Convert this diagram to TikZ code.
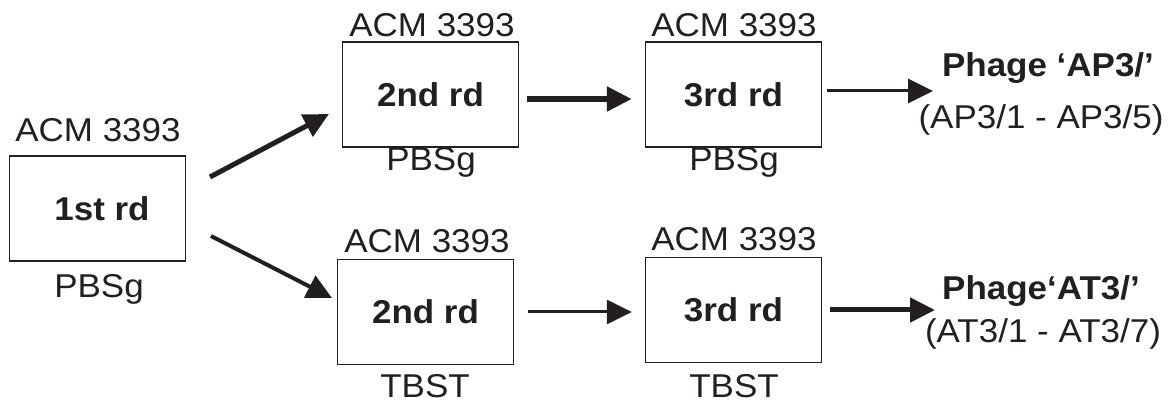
\documentclass[tikz,border=0pt]{standalone}
\usepackage{fontspec}
\setmainfont[FakeStretch=1.06]{Liberation Sans}
\usetikzlibrary{arrows.meta}
\definecolor{ink}{HTML}{231F20}
\begin{document}
\begin{tikzpicture}[x=1pt,y=-1pt,
  every node/.style={font=\fontsize{33pt}{39pt}\selectfont, text=ink, inner sep=0pt},
  rdbox/.style={draw=ink, line width=1.5pt, minimum width=176pt, minimum height=105pt, font=\fontsize{33pt}{39pt}\selectfont\bfseries},
  txt/.style={anchor=base},
  btxt/.style={anchor=base, font=\fontsize{33pt}{39pt}\selectfont\bfseries},
  arr/.style={draw=ink, line width=#1, -{Triangle[length=25pt,width=24pt]}},
]
\useasboundingbox (0,0) rectangle (1176,403);

% boxes
\node[rdbox] (b1) at (97.5,208.5) {\hspace{9pt}1st rd};
\node[rdbox] (b2t) at (430.5,94.5) {2nd rd};
\node[rdbox] (b3t) at (733.5,94.5) {3rd rd};
\node[rdbox] (b2b) at (425.5,312) {2nd rd};
\node[rdbox] (b3b) at (733.5,310) {3rd rd};

% labels above / below
\node[txt] (l1a) at (98,142) {ACM 3393};
\node[txt] (l1b) at (99,298) {PBSg};
\node[txt] (l2ta) at (432,37) {ACM 3393};
\node[txt] (l2tb) at (431,171) {PBSg};
\node[txt] (l3ta) at (734,37) {ACM 3393};
\node[txt] (l3tb) at (734,171) {PBSg};
\node[txt] (l2ba) at (427,253) {ACM 3393};
\node[txt] (l2bb) at (425,398) {TBST};
\node[txt] (l3ba) at (734,251) {ACM 3393};
\node[txt] (l3bb) at (734,398) {TBST};

% phage outputs
\node[btxt] (pa) at (1048,77) {Phage ‘AP3/’};
\node[txt] (pa2) at (1041,129) {(AP3/1 - AP3/5)};
\node[btxt] (pb) at (1041,300) {Phage‘AT3/’};
\node[txt] (pb2) at (1043,343) {(AT3/1 - AT3/7)};

% arrow end points
\coordinate (s1) at (210,177);
\coordinate (e1) at (329,114);
\coordinate (s2) at (211,236);
\coordinate (e2) at (332,298);
\coordinate (ea) at (933,91);
\coordinate (eb) at (935,310);

% connectors
\draw[arr=5pt] (s1) -- (e1);
\draw[arr=4pt] (s2) -- (e2);
\draw[arr=5.5pt, shorten <=8pt, shorten >=13pt] (b2t.east |- 0,99) -- (b3t.west |- 0,99);
\draw[arr=3pt, shorten <=5pt] (b3t.east |- ea) -- (ea);
\draw[arr=3pt, shorten <=14pt, shorten >=13pt] (b2b.east) -- (b3b.west |- b2b.east);
\draw[arr=5pt, shorten <=8pt] (b3b.east |- eb) -- (eb);
\end{tikzpicture}
\end{document}
